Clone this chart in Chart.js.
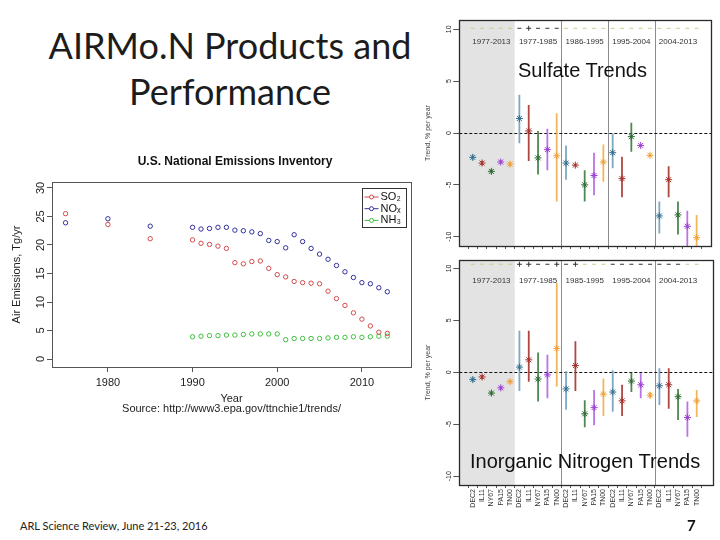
<!DOCTYPE html>
<html>
<head>
<meta charset="utf-8">
<script src="https://cdn.jsdelivr.net/npm/chart.js@4.4.1/dist/chart.umd.min.js"></script>
<style>
  body { margin: 0; background: #fff; }
  #slide { position: relative; width: 720px; height: 540px; overflow: hidden; }
  #slide canvas, #slide .txt { position: absolute; }
  .txt { white-space: nowrap; }
  #title { left: 20px; top: 22px; width: 420px; text-align: center; font: 36px/46px Lato, sans-serif; color: #1c1c1c; }
  .overlay { font: 20px/24px 'Liberation Sans', Arial, sans-serif; color: #111; }
  #footer { left: 20px; top: 519px; font: 11px/14px Lato, sans-serif; color: #222; }
  #page { left: 687px; top: 516px; font: bold 15px/18px Lato, sans-serif; color: #111; }
</style>
</head>
<body>
<div id="slide">
  <div class="txt" id="title">AIRMo.N Products and<br>Performance</div>
  <canvas id="emissions" width="468" height="270" style="left:0;top:150px"></canvas>
  <canvas id="sulfate" width="310" height="243" style="left:410px;top:15px"></canvas>
  <canvas id="nitrogen" width="310" height="285" style="left:410px;top:255px"></canvas>
  <div class="txt overlay" style="left:518px;top:58px">Sulfate Trends</div>
  <div class="txt overlay" style="left:470px;top:449px">Inorganic Nitrogen Trends</div>
  <div class="txt" id="footer">ARL Science Review, June 21-23, 2016</div>
  <div class="txt" id="page">7</div>
</div>
<script>
// emissions inventory (Tg/yr)
const emissionYears = [1975, 1980, 1985, 1990, 1991, 1992, 1993, 1994, 1995, 1996, 1997, 1998, 1999,
  2000, 2001, 2002, 2003, 2004, 2005, 2006, 2007, 2008, 2009, 2010, 2011, 2012, 2013];
const so2 = [25.5, 23.6, 21.1, 20.9, 20.3, 20.1, 19.8, 19.4, 16.9, 16.7, 17.1, 17.2, 15.9,
  14.8, 14.4, 13.6, 13.4, 13.3, 13.2, 11.9, 10.6, 9.4, 8.1, 7.0, 5.8, 4.7, 4.5];
const nox = [23.9, 24.6, 23.3, 23.1, 22.8, 22.9, 23.1, 23.1, 22.6, 22.5, 22.3, 22.0, 20.8,
  20.6, 19.5, 21.8, 20.6, 19.4, 18.4, 17.5, 16.4, 15.3, 14.3, 13.4, 13.2, 12.5, 11.8];
const nh3 = [null, null, null, 3.9, 4.0, 4.1, 4.1, 4.2, 4.2, 4.3, 4.4, 4.4, 4.4,
  4.4, 3.4, 3.6, 3.6, 3.6, 3.6, 3.7, 3.8, 3.8, 3.9, 3.8, 3.9, 4.0, 4.0];
const emissionXTicks = [1980, 1990, 2000, 2010];
const emissionYTicks = [0, 5, 10, 15, 20, 25, 30];

// trend panels (% per year), 5 sites x 5 periods
const sites = ['DEC2', 'IL11', 'NY67', 'PA15', 'TN00'];
const sulfatePeriods = ['1977-2013', '1977-1985', '1986-1995', '1995-2004', '2004-2013'];
const nitrogenPeriods = ['1977-2013', '1977-1985', '1985-1995', '1995-2004', '2004-2013'];
const trendYTicks = [-10, -5, 0, 5, 10];

const sulfateTrend = [
  -2.35, -2.9, -3.7, -2.8, -3.0,
  1.4, 0.2, -2.4, -1.6, -2.2,
  -2.9, -3.1, -5.0, -4.1, -2.8,
  -1.9, -4.4, -0.35, -1.2, -2.15,
  -8.0, -4.5, -7.9, -9.0, -10.1];
const sulfateLow = [
  -2.6, -3.1, -3.9, -3.0, -3.2,
  -1.0, -2.7, -4.0, -3.6, -6.6,
  -4.5, -3.2, -6.6, -6.0, -4.7,
  -3.4, -6.2, -1.8, -1.3, -2.3,
  -9.7, -6.2, -9.8, -11.0, -11.0];
const sulfateHigh = [
  -2.1, -2.7, -3.5, -2.6, -2.8,
  3.7, 2.7, 0.2, 0.4, 1.9,
  -1.2, -3.0, -3.6, -1.9, -1.1,
  0.0, -2.3, 1.0, -1.1, -2.0,
  -6.6, -3.2, -6.6, -7.5, -7.9];
const sulfateSign = [
  '-', '-', '-', '-', '-',
  '-', '+', '-', '-', '-',
  '-', '-', '-', '-', '-',
  '-', '-', '-', '-', '-',
  '-', '-', '-', '-', '-'];
const sulfateSignificant = [
  0, 0, 0, 0, 0,
  1, 1, 1, 1, 1,
  0, 0, 0, 0, 0,
  0, 0, 0, 0, 0,
  0, 0, 0, 0, 0];

const nitrogenTrend = [
  -0.7, -0.45, -2.0, -1.5, -0.9,
  0.5, 1.2, -0.65, -0.25, 2.3,
  -1.6, 0.65, -4.0, -3.4, -2.1,
  -1.9, -2.75, -0.85, -1.2, -2.2,
  -1.3, -1.2, -2.35, -4.35, -2.75];
const nitrogenLow = [
  -0.9, -0.65, -2.2, -1.7, -1.05,
  -1.8, -0.9, -2.8, -2.5, -1.4,
  -3.6, -1.8, -5.3, -5.1, -4.2,
  -3.8, -4.2, -1.9, -2.5, -2.5,
  -3.15, -3.5, -4.6, -6.2, -4.3];
const nitrogenHigh = [
  -0.5, -0.25, -1.8, -1.3, -0.75,
  4.0, 4.0, 1.9, 1.7, 8.6,
  0.1, 3.0, -2.7, -1.7, -0.6,
  0.2, -1.2, 0.0, -0.1, -1.9,
  0.4, 0.4, -1.6, -2.8, -1.7];
const nitrogenSign = [
  '-', '-', '-', '-', '-',
  '+', '+', '-', '-', '+',
  '-', '+', '-', '-', '-',
  '-', '-', '-', '-', '-',
  '-', '-', '-', '-', '-'];
const nitrogenSignificant = [
  0, 0, 0, 0, 0,
  1, 1, 1, 1, 1,
  1, 1, 0, 0, 0,
  1, 1, 1, 1, 1,
  1, 1, 1, 0, 0];

const siteColors = ['#336f8e', '#a5332e', '#2f6b34', '#9d3fd6', '#eea03a'];
const barColors = ['rgba(110,160,190,0.9)', 'rgba(165,51,46,0.9)', 'rgba(58,122,62,0.9)', 'rgba(175,90,225,0.85)', 'rgba(240,175,75,0.9)'];

Chart.defaults.font.family = "'Liberation Sans', Arial, sans-serif";
Chart.defaults.color = '#222';
Chart.defaults.animation = false;
Chart.defaults.responsive = false;
Chart.defaults.plugins.legend.display = false;
Chart.defaults.plugins.tooltip.enabled = false;

// frame, shading, separators, rotated y labels, legend box
const decor = {
  id: 'decor',
  beforeDatasetsDraw(chart, args, opts) {
    const { ctx, chartArea: area, scales: { x, y } } = chart;
    ctx.save();
    if (opts.shadeTo != null) {
      ctx.fillStyle = '#e3e3e3';
      ctx.fillRect(area.left, area.top, x.getPixelForValue(opts.shadeTo) - area.left, area.height);
    }
    ctx.strokeStyle = '#8c8c8c';
    ctx.lineWidth = 1;
    (opts.separators || []).forEach((v) => {
      const px = Math.round(x.getPixelForValue(v)) + 0.5;
      ctx.beginPath();
      ctx.moveTo(px, area.top);
      ctx.lineTo(px, area.bottom);
      ctx.stroke();
    });
    if (opts.zeroLine) {
      const py = Math.round(y.getPixelForValue(0)) + 0.5;
      ctx.strokeStyle = '#111';
      ctx.setLineDash([3, 2]);
      ctx.beginPath();
      ctx.moveTo(area.left, py);
      ctx.lineTo(area.right, py);
      ctx.stroke();
      ctx.setLineDash([]);
    }
    if (opts.periods) {
      ctx.font = "8px 'Liberation Sans', Arial, sans-serif";
      ctx.fillStyle = '#333';
      ctx.textAlign = 'center';
      ctx.textBaseline = 'middle';
      opts.periods.forEach((p, i) => {
        const mid = i * opts.groupSize + (opts.groupSize - 1) / 2;
        ctx.fillText(p, x.getPixelForValue(mid), y.getPixelForValue(opts.periodY));
      });
    }
    ctx.restore();
  },
  afterDraw(chart, args, opts) {
    const { ctx, chartArea: area, scales: { y } } = chart;
    ctx.save();
    ctx.strokeStyle = opts.frame;
    ctx.lineWidth = opts.frameWidth;
    ctx.strokeRect(Math.round(area.left) + 0.5, Math.round(area.top) + 0.5, Math.round(area.width), Math.round(area.height));

    ctx.fillStyle = '#222';
    ctx.font = opts.yTickFont;
    ctx.textAlign = 'center';
    ctx.textBaseline = 'middle';
    y.ticks.forEach((t) => {
      ctx.save();
      ctx.translate(area.left - opts.yTickOffset, y.getPixelForValue(t.value));
      ctx.rotate(-Math.PI / 2);
      ctx.fillText(String(t.value), 0, 0);
      ctx.restore();
    });

    if (opts.heading) {
      ctx.font = "bold 12px 'Liberation Sans', Arial, sans-serif";
      ctx.fillStyle = '#111';
      ctx.fillText(opts.heading.text, opts.heading.x, opts.heading.y);
    }

    if (opts.legend) {
      const lg = opts.legend;
      const bx = Math.round(area.right - lg.right - lg.width) + 0.5;
      const by = Math.round(area.top + lg.top) + 0.5;
      ctx.strokeStyle = '#333';
      ctx.lineWidth = 1;
      ctx.strokeRect(bx, by, lg.width, lg.height);
      ctx.font = "11px 'Liberation Sans', 'DejaVu Sans', sans-serif";
      ctx.textAlign = 'left';
      chart.data.datasets.forEach((ds, i) => {
        const cy = by + 8.5 + i * 11.7;
        ctx.strokeStyle = ds.pointBorderColor;
        ctx.beginPath();
        ctx.moveTo(bx + 2, cy);
        ctx.lineTo(bx + 16, cy);
        ctx.stroke();
        ctx.beginPath();
        ctx.fillStyle = '#fff';
        ctx.arc(bx + 9, cy, 2, 0, Math.PI * 2);
        ctx.fill();
        ctx.stroke();
        ctx.fillStyle = '#111';
        ctx.fillText(ds.label, bx + 18, cy);
      });
    }
    ctx.restore();
  },
};

const emissionSet = (label, values, color) => ({
  label,
  data: emissionYears.map((yr, i) => ({ x: yr, y: values[i] })),
  pointStyle: 'circle',
  pointRadius: 2.2,
  pointBorderWidth: 1,
  pointBorderColor: color,
  pointBackgroundColor: 'rgba(0,0,0,0)',
});

new Chart(document.getElementById('emissions'), {
  type: 'scatter',
  data: {
    datasets: [
      emissionSet('SO₂', so2, '#d24b4b'),
      emissionSet('NOₓ', nox, '#30309a'),
      emissionSet('NH₃', nh3, '#3fbf3f'),
    ],
  },
  options: {
    layout: { padding: { left: 0, right: 57, top: 32, bottom: 0 } },
    plugins: {
      decor: {
        frame: '#555',
        frameWidth: 1,
        yTickOffset: 11,
        yTickFont: "11px 'Liberation Sans', Arial, sans-serif",
        heading: { text: 'U.S. National Emissions Inventory', x: 235, y: 12 },
        legend: { width: 44, height: 39, right: 5, top: 6 },
      },
    },
    scales: {
      x: {
        min: 1973.4,
        max: 2015.8,
        afterBuildTicks: (s) => { s.ticks = emissionXTicks.map((v) => ({ value: v })); },
        afterFit: (s) => { s.height = 53; },
        ticks: { padding: 4.4, font: { size: 11 }, color: '#222', callback: (v) => String(v) },
        grid: { drawOnChartArea: false, tickLength: 5, color: '#555' },
        border: { display: false },
        title: {
          display: true,
          text: ['Year', 'Source: http://www3.epa.gov/ttnchie1/trends/'],
          font: { size: 11, lineHeight: 0.95 },
          color: '#222',
          padding: { top: 0, bottom: 5.8 },
        },
      },
      y: {
        min: -1.4,
        max: 31.05,
        afterBuildTicks: (s) => { s.ticks = emissionYTicks.map((v) => ({ value: v })); },
        afterFit: (s) => { s.width = 52; },
        ticks: { display: false },
        grid: { drawOnChartArea: false, tickLength: 5, color: '#555' },
        border: { display: false },
        title: {
          display: true,
          text: 'Air Emissions, Tg/yr',
          font: { size: 11 },
          color: '#222',
          padding: { top: 10.4, bottom: 0 },
        },
      },
    },
  },
  plugins: [decor],
});

function trendChart(canvasId, trend, low, high, sign, significant, periods, separators, layoutOpts) {
  const idx = trend.map((v, i) => i);
  return new Chart(document.getElementById(canvasId), {
    type: 'scatter',
    data: {
      datasets: [
        {
          type: 'bar',
          data: idx.map((i) => ({ x: i, y: [low[i], high[i]] })),
          backgroundColor: idx.map((i) => barColors[i % sites.length]),
          barThickness: 1.8,
          inflateAmount: 0,
          order: 3,
        },
        {
          data: idx.map((i) => ({ x: i, y: trend[i] })),
          pointStyle: 'star',
          pointRadius: 3.5,
          pointBorderWidth: 1,
          pointBorderColor: idx.map((i) => siteColors[i % sites.length]),
          pointBackgroundColor: idx.map((i) => siteColors[i % sites.length]),
          order: 2,
        },
        {
          data: idx.map((i) => ({ x: i, y: layoutOpts.signRow })),
          pointStyle: sign.map((s) => (s === '+' ? 'cross' : 'line')),
          pointRadius: sign.map((s) => (s === '+' ? 2.5 : 2)),
          pointBorderWidth: 1,
          pointBorderColor: significant.map((f) => (f ? '#333' : '#c6cf8a')),
          order: 1,
        },
      ],
    },
    options: {
      layout: { padding: { left: 0, right: layoutOpts.padRight, top: 5, bottom: 0 } },
      plugins: {
        decor: {
          frame: '#2a2a2a',
          frameWidth: 1.3,
          yTickOffset: 10,
          yTickFont: "7px 'Liberation Sans', Arial, sans-serif",
          shadeTo: sites.length - 0.5,
          separators,
          zeroLine: true,
          periods,
          periodY: 8.8,
          groupSize: sites.length,
        },
      },
      scales: {
        x: {
          min: -0.9,
          max: layoutOpts.xMax,
          afterBuildTicks: (s) => { s.ticks = idx.map((v) => ({ value: v })); },
          afterFit: (s) => { s.height = layoutOpts.xHeight; },
          ticks: {
            display: layoutOpts.labels,
            autoSkip: false,
            minRotation: 90,
            maxRotation: 90,
            padding: 1,
            font: { size: 7 },
            color: '#333',
            callback: (v) => sites[v % sites.length],
          },
          grid: { drawOnChartArea: false, tickLength: 3, color: '#555' },
          border: { display: false },
        },
        y: {
          min: layoutOpts.yMin,
          max: layoutOpts.yMax,
          afterBuildTicks: (s) => { s.ticks = trendYTicks.map((v) => ({ value: v })); },
          afterFit: (s) => { s.width = 49.3; },
          ticks: { display: false },
          grid: { drawOnChartArea: false, tickLength: 6, color: '#555' },
          border: { display: false },
          title: {
            display: true,
            text: 'Trend, % per year',
            font: { size: 7 },
            color: '#444',
            padding: { top: 13.8, bottom: 0 },
          },
        },
      },
    },
    plugins: [decor],
  });
}

trendChart('sulfate', sulfateTrend, sulfateLow, sulfateHigh, sulfateSign, sulfateSignificant,
  sulfatePeriods, [9.5, 14.5, 19.5],
  { padRight: 9, xMax: 25, xHeight: 12, labels: false, yMin: -10.9, yMax: 10.9, signRow: 10.1 });

trendChart('nitrogen', nitrogenTrend, nitrogenLow, nitrogenHigh, nitrogenSign, nitrogenSignificant,
  nitrogenPeriods, [9.5, 19.5],
  { padRight: 7, xMax: 25.2, xHeight: 55, labels: true, yMin: -10.85, yMax: 10.81, signRow: 10.4 });
</script>
</body>
</html>
